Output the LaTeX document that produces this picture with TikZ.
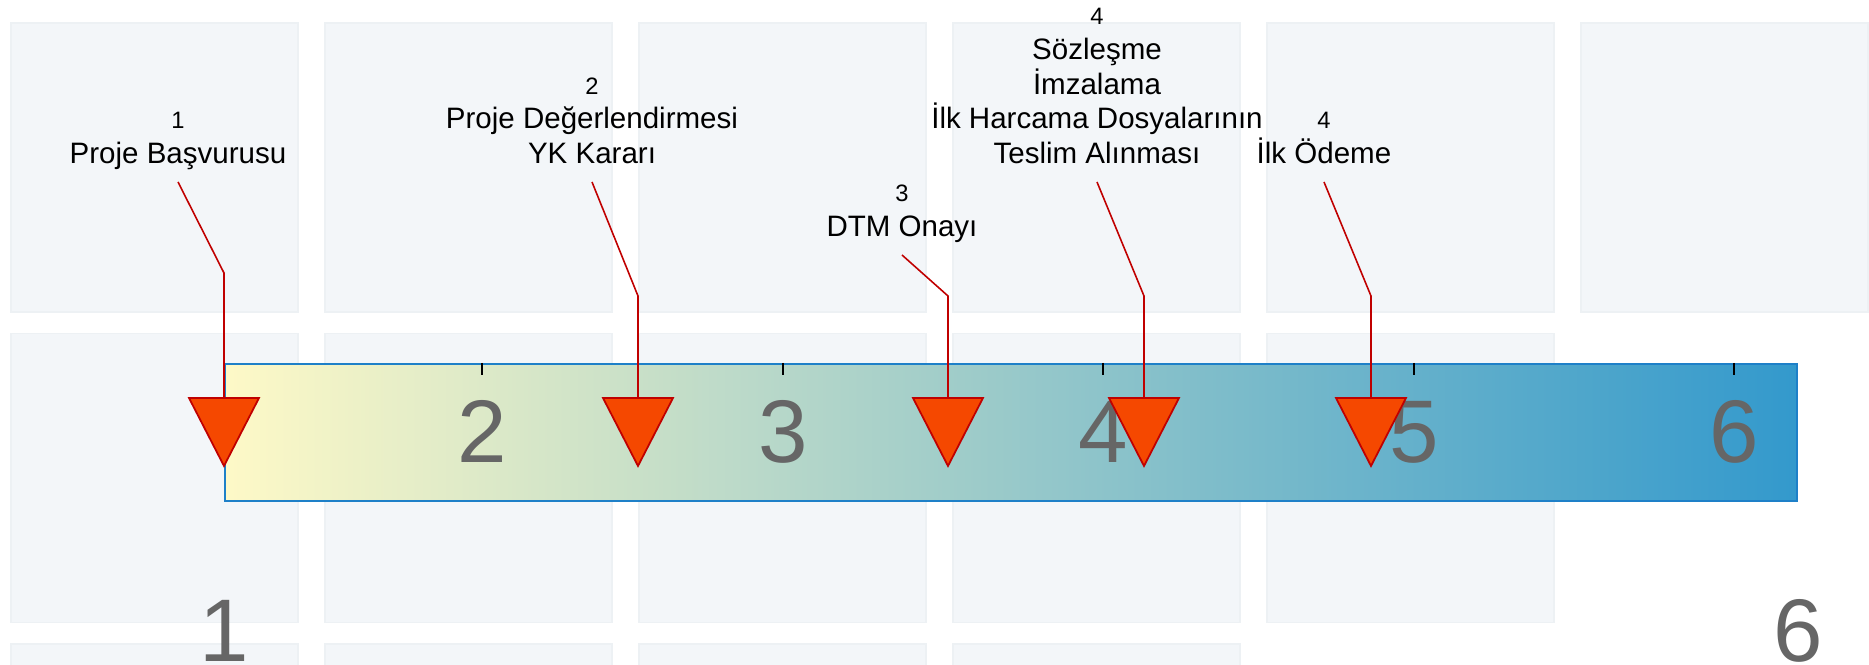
\documentclass[tikz,border=0pt]{standalone}
\usepackage{fontspec}
\setmainfont{Liberation Sans}
\usepackage{tikz}
\usetikzlibrary{calc,positioning}

\definecolor{tileA}{RGB}{243,246,249}
\definecolor{tileEdge}{RGB}{237,241,244}
\definecolor{barEdge}{RGB}{30,128,200}
\definecolor{barLeft}{RGB}{254,249,199}
\definecolor{barRight}{RGB}{51,153,204}
\definecolor{leadRed}{RGB}{192,0,0}
\definecolor{markFill}{RGB}{245,72,0}
\definecolor{numGrey}{RGB}{102,102,102}

\newcommand{\evnum}{\fontsize{6.75}{9.84}\selectfont}

\begin{document}
\begin{tikzpicture}[x=1cm,y=-1cm]

\tikzset{tile/.style={fill=tileA,draw=tileEdge,line width=0.3pt},
timebar/.style={draw=barEdge,line width=0.6pt,left color=barLeft,right color=barRight,minimum width=15.72cm,minimum height=1.37cm,inner sep=0pt,anchor=north west},
tick/.style={line width=0.4pt,black},
bignum/.style={font=\fontsize{25.3}{30}\selectfont,text=numGrey,inner sep=0pt,anchor=base},
evlabel/.style={font=\fontsize{8.4}{9.84}\selectfont,align=center,inner xsep=0pt,inner ysep=2.2pt,anchor=south},
leader/.style={draw=leadRed,line width=0.45pt},
marker/.style={fill=markFill,draw=leadRed,line width=0.5pt,line join=miter}}

\useasboundingbox (0,0) rectangle (18.69,6.65);
\clip (0,0) rectangle (18.69,6.65);

% Background tiles
\foreach \r/\n in {0/5, 1/4, 2/3} \foreach \c in {0,...,\n} \draw[tile] ({0.11+3.14*\c},{0.23+3.105*\r}) rectangle +(2.87,2.89);

% Time bar
\node[timebar] (bar) at (2.24,3.63) {};
\foreach \x/\n in {2.58/2, 5.59/3, 8.79/4, 11.90/5, 15.10/6} {\draw[tick] ($(bar.north west)+(\x,0)$) -- +(0,0.12); \node[bignum] (t\n) at ($(bar.north west)+(\x,1.00)$) {\n};} % tick marks
\node[bignum] (ax1) at ($(bar.south west)+(0,1.59)$) {1};
\node[bignum] (ax6) at ($(bar.south east)+(0,1.59)$) {6};

% Marker tops
\coordinate (m1) at (2.24,3.98);
\coordinate (m2) at (6.38,3.98);
\coordinate (m3) at (9.48,3.98);
\coordinate (m4) at (11.44,3.98);
\coordinate (m5) at (13.71,3.98);

% Leader bends
\coordinate (b1) at ($(m1)+(0,-1.25)$);
\coordinate (b2) at ($(m2)+(0,-1.02)$);
\coordinate (b3) at ($(m3)+(0,-1.02)$);
\coordinate (b4) at ($(m4)+(0,-1.02)$);
\coordinate (b5) at ($(m5)+(0,-1.02)$);

% Event labels
\node[evlabel] (l1) at ($(m1)+(-0.46,-2.16)$) {{\evnum 1}\\Proje Başvurusu\strut};
\node[evlabel] (l2) at ($(m2)+(-0.46,-2.16)$) {{\evnum 2}\\Proje Değerlendirmesi\\YK Kararı\strut};
\node[evlabel] (l3) at ($(m3)+(-0.46,-1.43)$) {{\evnum 3}\\DTM Onayı\strut};
\node[evlabel] (l4) at ($(m4)+(-0.47,-2.16)$) {{\evnum 4}\\Sözleşme\\İmzalama\\İlk Harcama Dosyalarının\\Teslim Alınması\strut};
\node[evlabel] (l5) at ($(m5)+(-0.47,-2.16)$) {{\evnum 4}\\İlk Ödeme\strut};

% Leaders
\draw[leader] (l1.south) -- (b1) -- (m1); \draw[leader] (l2.south) -- (b2) -- (m2); \draw[leader] (l3.south) -- (b3) -- (m3);
\draw[leader] (l4.south) -- (b4) -- (m4); \draw[leader] (l5.south) -- (b5) -- (m5);

% Markers
\foreach \m in {m1,m2,m3,m4,m5} \draw[marker] (\m) -- +(0.35,0) -- +(0,0.68) -- +(-0.35,0) -- cycle;

\end{tikzpicture}
\end{document}
